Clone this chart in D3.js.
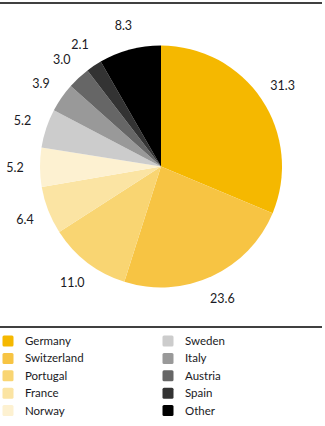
<!DOCTYPE html>
<html><head><meta charset="utf-8">
<script src="https://cdn.jsdelivr.net/npm/d3@7"></script>
<style>body{margin:0;background:#fff;}svg{display:block;font-family:Lato,"Noto Sans",sans-serif;}</style>
</head><body>
<svg id="c" width="325" height="426"></svg>
<script>
const categories = ["Germany","Switzerland","Portugal","France","Norway","Sweden","Italy","Austria","Spain","Other"];
const values = [31.3,23.6,11.0,6.4,5.2,5.2,3.9,3.0,2.1,8.3];
const colors = ["#F5B800","#F7C443","#F9D572","#FBE4A3","#FDF1D1","#CCCCCC","#999999","#666666","#333333","#000000"];

const svg = d3.select("#c");
const cx = 161, cy = 166.5, R = 121, labelR = 146;

svg.append("line").attr("x1",0).attr("x2",322).attr("y1",3).attr("y2",3).attr("stroke","#000").attr("stroke-width",1.5);
svg.append("line").attr("x1",0).attr("x2",322).attr("y1",327).attr("y2",327).attr("stroke","#000").attr("stroke-width",1.5);

const data = categories.map((c,i)=>({name:c,value:values[i],color:colors[i]}));
const pie = d3.pie().value(d=>d.value).sort(null);
const arcs = pie(data);
const arc = d3.arc().innerRadius(0).outerRadius(R);
const g = svg.append("g").attr("transform",`translate(${cx},${cy})`);
g.selectAll("path").data(arcs).join("path").attr("d",arc).attr("fill",d=>d.data.color);

const larc = d3.arc().innerRadius(labelR).outerRadius(labelR);
g.selectAll("text").data(arcs).join("text")
  .attr("transform",d=>`translate(${larc.centroid(d)})`)
  .attr("text-anchor","middle").attr("dy","0.35em")
  .attr("font-size",12.5).attr("fill","#1a1a24")
  .text(d=>d3.format(".1f")(d.data.value));

const leg = svg.append("g");
const rows = 5, rowH = 17.4;
data.forEach((d,i)=>{
  const col = Math.floor(i/rows), row = i%rows;
  const x = col===0 ? 2.5 : 162.5, y = 341 + row*rowH;
  leg.append("rect").attr("x",x).attr("y",y-5.5).attr("width",11).attr("height",11).attr("rx",1.5).attr("fill",d.color);
  leg.append("text").attr("x",x+22.5).attr("y",y).attr("dy","0.35em").attr("font-size",11.5).attr("fill","#1a1a24").text(d.name);
});
</script>
</body></html>
